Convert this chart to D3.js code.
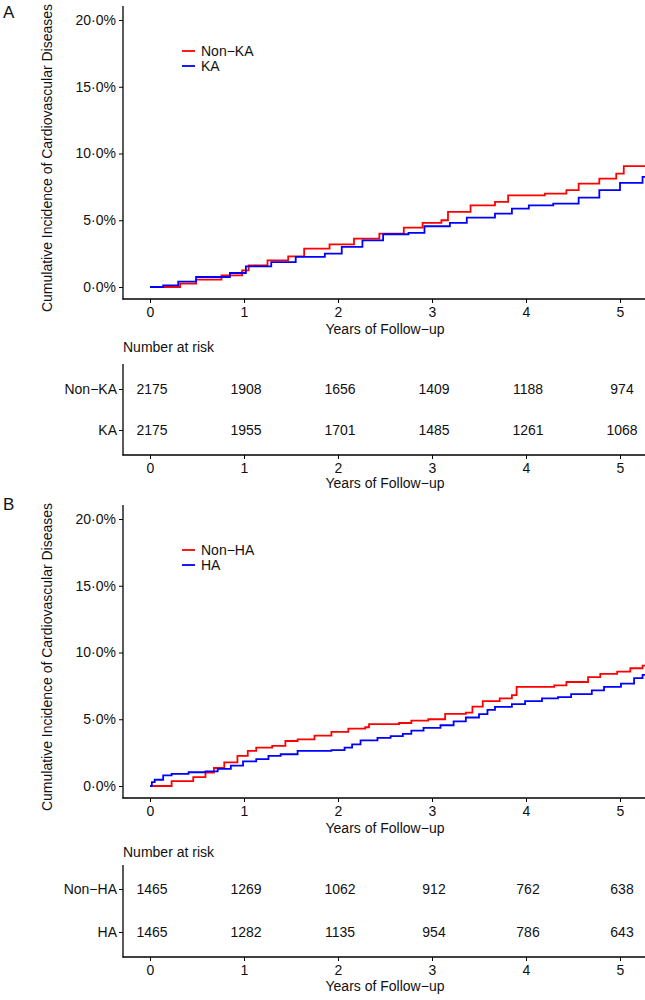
<!DOCTYPE html>
<html>
<head>
<meta charset="utf-8" />
<title>Cumulative incidence</title>
<script src="https://d3js.org/d3.v7.min.js"></script>
<style>
  body { margin: 0; background: #fff; }
  text { font-family: "Liberation Sans", Arial, sans-serif; fill: #111; }
</style>
</head>
<body>
<svg id="chart" width="645" height="1000"></svg>
<script>
// data
var years = [0, 1, 2, 3, 4, 5];
var pctTicks = [0, 5, 10, 15, 20];

var groupsA = ["Non\u2212KA", "KA"];
var groupsB = ["Non\u2212HA", "HA"];

var riskNonKA = [2175, 1908, 1656, 1409, 1188, 974];
var riskKA    = [2175, 1955, 1701, 1485, 1261, 1068];
var riskNonHA = [1465, 1269, 1062, 912, 762, 638];
var riskHA    = [1465, 1282, 1135, 954, 786, 643];

// [year, cumulative incidence %]
var curveNonKA = [[0,0],[0.32,0.25],[0.49,0.55],[0.76,0.87],[0.98,1.25],[1.05,1.62],[1.25,2.0],[1.47,2.3],
  [1.64,2.87],[1.91,3.2],[2.17,3.62],[2.44,4.0],[2.7,4.45],[2.9,4.8],[3.1,5.0],[3.17,5.62],[3.41,6.12],
  [3.67,6.37],[3.81,6.87],[4.2,7.0],[4.43,7.25],[4.56,7.75],[4.78,8.12],[4.96,8.5],[5.04,9.05],[5.3,9.05]];
var curveKA = [[0,0],[0.14,0.12],[0.3,0.4],[0.49,0.75],[0.85,1.05],[1.02,1.55],[1.29,1.87],[1.55,2.25],
  [1.86,2.5],[2.04,3.0],[2.26,3.5],[2.48,3.95],[2.75,4.05],[2.92,4.55],[3.19,4.8],[3.37,5.2],[3.67,5.5],
  [3.85,5.87],[4.03,6.12],[4.29,6.25],[4.56,6.7],[4.78,7.25],[5.0,7.8],[5.24,8.25],[5.3,8.25]];
var curveNonHA = [[0,0],[0.23,0.37],[0.46,0.66],[0.59,1.0],[0.68,1.35],[0.79,1.77],[0.93,2.26],[1.04,2.63],
  [1.13,2.87],[1.3,3.0],[1.44,3.37],[1.57,3.49],[1.75,3.78],[1.93,4.05],[2.11,4.3],[2.29,4.4],[2.33,4.64],
  [2.65,4.72],[2.78,4.9],[2.96,5.0],[3.14,5.4],[3.36,5.5],[3.43,5.95],[3.54,6.36],[3.72,6.56],[3.85,6.8],
  [3.9,7.42],[4.3,7.54],[4.43,7.79],[4.66,8.16],[4.79,8.4],[4.97,8.57],[5.11,8.82],[5.24,9.02],[5.3,9.02]];
var curveHA = [[0,0],[0.02,0.29],[0.05,0.47],[0.14,0.79],[0.23,0.91],[0.41,1.03],[0.59,1.1],[0.72,1.28],
  [0.86,1.52],[0.99,1.84],[1.13,2.01],[1.26,2.26],[1.39,2.38],[1.57,2.63],[1.93,2.68],[2.07,2.87],[2.15,3.12],
  [2.24,3.42],[2.42,3.61],[2.56,3.73],[2.69,3.9],[2.78,4.15],[2.91,4.35],[3.09,4.55],[3.23,4.84],[3.36,5.13],
  [3.5,5.38],[3.59,5.7],[3.67,5.92],[3.85,6.14],[3.99,6.36],[4.17,6.56],[4.34,6.66],[4.48,6.88],[4.7,7.17],
  [4.83,7.42],[5.01,7.67],[5.15,8.08],[5.24,8.33],[5.3,8.33]];

var colors = ["#ff0000", "#0000ff"];

var svg = d3.select("#chart");

// shared x scale (years)
var x = d3.scaleLinear().domain([0, 5]).range([150, 620]);
var xLeft = 123, xRight = 645;

// p: offsets for the plot part, t: absolute layout of the risk table
function drawPanel(p, t, letter, groups, curves, risks) {
  var g = svg.append("g").attr("transform", "translate(0," + p.oy + ")");

  g.append("text").attr("x", 3).attr("y", p.letterY).style("font-size", "17px").text(letter);

  // ---- curve plot ----
  var y = d3.scaleLinear().domain([0, 20]).range([287, 20]);
  var yTop = y(21.05), yBot = 299;

  g.append("clipPath").attr("id", "clip" + letter)
    .append("rect").attr("x", xLeft).attr("y", yTop).attr("width", xRight - xLeft).attr("height", yBot - yTop);

  var line = d3.line().x(function(d) { return x(d[0]); }).y(function(d) { return y(d[1]); })
    .curve(d3.curveStepAfter);

  curves.forEach(function(c, i) {
    g.append("path").datum(c).attr("d", line)
      .attr("fill", "none").attr("stroke", colors[i]).attr("stroke-width", 1.8)
      .attr("clip-path", "url(#clip" + letter + ")");
  });

  var yAxis = d3.axisLeft(y).tickValues(pctTicks).tickSize(4).tickPadding(3)
    .tickFormat(function(d) { return d.toFixed(1).replace(".", "\u00B7") + "%"; });
  var ya = g.append("g").attr("transform", "translate(" + xLeft + ",0)").call(yAxis);
  ya.select(".domain").remove();
  ya.append("line").attr("x1", 0).attr("x2", 0).attr("y1", yTop).attr("y2", yBot + 0.5)
    .attr("stroke", "#000").attr("stroke-width", 1.3);

  var xAxis = d3.axisBottom(x).tickValues(years).tickSize(4).tickPadding(4).tickFormat(d3.format("d"));
  var xa = g.append("g").attr("transform", "translate(0," + yBot + ")").call(xAxis);
  xa.select(".domain").remove();
  xa.append("line").attr("x1", xLeft - 0.5).attr("x2", xRight).attr("y1", 0).attr("y2", 0)
    .attr("stroke", "#000").attr("stroke-width", 1.3);

  g.append("text").attr("x", x(2.5)).attr("y", 334).attr("text-anchor", "middle")
    .style("font-size", "14px").text("Years of Follow\u2212up");

  g.append("text").attr("transform", "translate(52,158) rotate(-90)").attr("text-anchor", "middle")
    .style("font-size", "14px").text("Cumulative Incidence of Cardiovascular Diseases");

  // legend
  groups.forEach(function(name, i) {
    var ly = 51 + i * 15;
    g.append("line").attr("x1", 182).attr("x2", 195).attr("y1", ly).attr("y2", ly)
      .attr("stroke", colors[i]).attr("stroke-width", 1.8);
    g.append("text").attr("x", 201).attr("y", ly + 5).style("font-size", "14px").text(name);
  });

  // ---- number at risk table ----
  var tg = svg.append("g");
  tg.append("text").attr("x", xLeft).attr("y", t.head + 5).style("font-size", "14px").text("Number at risk");

  var rowY = d3.scalePoint().domain(groups).range(t.rows);

  risks.forEach(function(r, i) {
    tg.selectAll(null).data(r).enter().append("text")
      .attr("x", function(d, j) { return x(years[j]) + 2; })
      .attr("y", rowY(groups[i]) + 5)
      .attr("text-anchor", "middle").style("font-size", "14px")
      .text(function(d) { return d; });
  });

  var ta = tg.append("g").attr("transform", "translate(" + xLeft + ",0)")
    .call(d3.axisLeft(rowY).tickSize(4).tickPadding(2));
  ta.select(".domain").remove();
  ta.append("line").attr("x1", 0).attr("x2", 0).attr("y1", t.top).attr("y2", t.bot + 0.5)
    .attr("stroke", "#000").attr("stroke-width", 1.3);

  var tx = tg.append("g").attr("transform", "translate(0," + t.bot + ")").call(xAxis);
  tx.select(".domain").remove();
  tx.append("line").attr("x1", xLeft - 0.5).attr("x2", xRight).attr("y1", 0).attr("y2", 0)
    .attr("stroke", "#000").attr("stroke-width", 1.3);

  tg.append("text").attr("x", x(2.5)).attr("y", t.title + 5).attr("text-anchor", "middle")
    .style("font-size", "14px").text("Years of Follow\u2212up");

  [g, tg].forEach(function(s) {
    s.selectAll(".tick text").style("font-size", "14px").style("font-family", "Liberation Sans, Arial, sans-serif")
      .attr("fill", "#111");
    s.selectAll(".tick line").attr("stroke", "#000").attr("stroke-width", 1);
  });
}

drawPanel({ oy: 0, letterY: 18 }, { head: 347, top: 364, rows: [389, 430], bot: 455, title: 483 },
  "A", groupsA, [curveNonKA, curveKA], [riskNonKA, riskKA]);
drawPanel({ oy: 499, letterY: 11 }, { head: 852, top: 865, rows: [889, 932], bot: 957, title: 986 },
  "B", groupsB, [curveNonHA, curveHA], [riskNonHA, riskHA]);
</script>
</body>
</html>
